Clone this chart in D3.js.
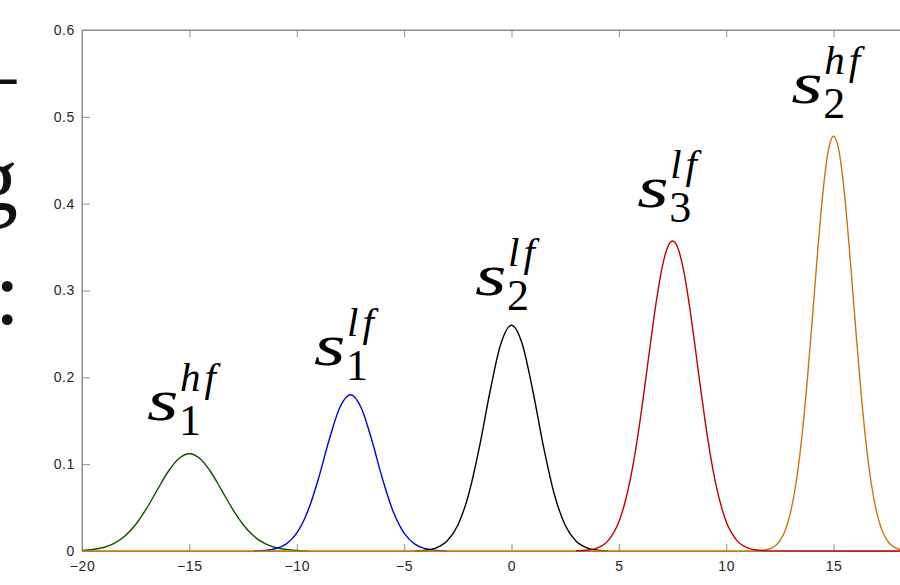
<!DOCTYPE html>
<html>
<head>
<meta charset="utf-8">
<script src="https://cdn.jsdelivr.net/npm/d3@7/dist/d3.min.js"></script>
<style>
  html, body { margin: 0; padding: 0; background: #fff; }
  svg { display: block; }
</style>
</head>
<body>
<svg id="chart" width="900" height="585"></svg>
<script>
// ---- data ----
const xTicks = [-20, -15, -10, -5, 0, 5, 10, 15];
const yTicks = [0, 0.1, 0.2, 0.3, 0.4, 0.5, 0.6];
const yTickLabels = ["0", "0.1", "0.2", "0.3", "0.4", "0.5", "0.6"];

const xGreen = [-20,-19.5,-19,-18.5,-18,-17.5,-17,-16.5,-16,-15.5,-15,-14.5,-14,-13.5,-13,-12.5,-12,-11.5,-11,-10.5,-10,-9.5];
const yGreen = [0.0006,0.0017,0.0040,0.0087,0.0172,0.0305,0.0487,0.0701,0.0910,0.1063,0.1120,0.1063,0.0910,0.0701,0.0487,0.0305,0.0172,0.0087,0.0040,0.0017,0.0006,0.0002];

const xBlue = [-12,-11.5,-11,-10.5,-10,-9.5,-9,-8.5,-8,-7.5,-7,-6.5,-6,-5.5,-5,-4.5,-4,-3.5,-3];
const yBlue = [0.0002,0.0007,0.0026,0.0079,0.0206,0.0449,0.0824,0.1272,0.1650,0.1800,0.1650,0.1272,0.0824,0.0449,0.0206,0.0079,0.0026,0.0007,0.0002];

const xBlack = [-4.5,-4,-3.5,-3,-2.5,-2,-1.5,-1,-0.5,0,0.5,1,1.5,2,2.5,3,3.5,4,4.5];
const yBlack = [0.0002,0.0010,0.0037,0.0114,0.0297,0.0648,0.1190,0.1837,0.2384,0.2600,0.2384,0.1837,0.1190,0.0648,0.0297,0.0114,0.0037,0.0010,0.0002];

const xRed = [3,3.5,4,4.5,5,5.25,5.5,5.75,6,6.25,6.5,6.75,7,7.25,7.5,7.75,8,8.25,8.5,8.75,9,9.25,9.5,10,10.5,11,11.5,12,20];
const yRed = [0.0002,0.0008,0.0035,0.0119,0.0336,0.0527,0.0787,0.1122,0.1525,0.1977,0.2446,0.2886,0.3248,0.3487,0.3570,0.3487,0.3248,0.2886,0.2446,0.1977,0.1525,0.1122,0.0787,0.0336,0.0119,0.0035,0.0008,0.0002,0];

const xOrange = [-20,11,11.5,12,12.5,12.75,13,13.25,13.5,13.75,14,14.25,14.5,14.75,15,15.25,15.5,15.75,16,16.25,16.5,16.75,17,17.25,17.5,18,18.5,19,20];
const yOrange = [0,0,0.0003,0.0023,0.0119,0.0240,0.0450,0.0783,0.1265,0.1899,0.2648,0.3429,0.4124,0.4607,0.4780,0.4607,0.4124,0.3429,0.2648,0.1899,0.1265,0.0783,0.0450,0.0240,0.0119,0.0023,0.0003,0,0];

const seriesColors = ["#124d00", "#0000dd", "#000000", "#c8780a", "#c00000"];

// labels: data position of the "s" glyph (left, baseline)
const labelX = [-16.93, -9.15, -1.65, 5.90, 13.07];
const labelY = [0.151, 0.214, 0.295, 0.396, 0.516];
const labelSub = ["1", "1", "2", "3", "2"];
const labelSup = ["hf", "lf", "lf", "lf", "hf"];

// ---- drawing ----
const svg = d3.select("#chart");
const x = d3.scaleLinear().domain([-20, 20]).range([82, 941]);
const y = d3.scaleLinear().domain([0, 0.6]).range([551, 30]);
const axisColor = "#8c8c8c";
const tickFont = "Liberation Sans";
const mathFont = "Liberation Serif";

// box (left, top)
const g = svg.append("g");
g.append("line").attr("x1", x(-20)).attr("x2", x(-20)).attr("y1", y(0)).attr("y2", y(0.6))
  .attr("stroke", axisColor).attr("stroke-width", 1);
g.append("line").attr("x1", x(-20)).attr("x2", x(20)).attr("y1", y(0.6)).attr("y2", y(0.6))
  .attr("stroke", axisColor).attr("stroke-width", 1);

// axes via d3
const xAxis = d3.axisBottom(x).tickValues(xTicks).tickSizeInner(-7).tickSizeOuter(0).tickPadding(10);
const xAxisTop = d3.axisTop(x).tickValues(xTicks).tickSizeInner(-7).tickSizeOuter(0).tickFormat("");
const yAxis = d3.axisLeft(y).tickValues(yTicks).tickSizeInner(-8).tickSizeOuter(0).tickPadding(7)
  .tickFormat((d, i) => yTickLabels[i]);

function styleAxis(sel) {
  sel.attr("font-family", tickFont).attr("font-size", 14);
  sel.select(".domain").attr("stroke", axisColor);
  sel.selectAll(".tick line").attr("stroke", axisColor);
  sel.selectAll(".tick text").attr("fill", "#262626").attr("letter-spacing", "0.6px");
}
g.append("g").attr("transform", `translate(0,${y(0)})`).call(xAxis).call(styleAxis);
g.append("g").attr("transform", `translate(0,${y(0.6)})`).call(xAxisTop).call(styleAxis);
g.append("g").attr("transform", `translate(${x(-20)},0)`).call(yAxis).call(styleAxis);

// curves
const seriesList = [
  { xs: xGreen, ys: yGreen },
  { xs: xBlue, ys: yBlue },
  { xs: xBlack, ys: yBlack },
  { xs: xOrange, ys: yOrange },
  { xs: xRed, ys: yRed }
];
const line = d3.line().x(d => x(d[0])).y(d => y(d[1])).curve(d3.curveMonotoneX);
seriesList.forEach((s, i) => {
  const pts = s.xs.map((v, j) => [v, s.ys[j]]);
  svg.append("path").datum(pts).attr("d", line)
    .attr("fill", "none").attr("stroke", seriesColors[i]).attr("stroke-width", 1.4);
});

// labels
labelX.forEach((lx, i) => {
  const px = x(lx), py = y(labelY[i]);
  svg.append("text").attr("x", 0).attr("y", 0)
    .attr("transform", `translate(${px - 1},${py}) scale(1.35,1)`)
    .attr("font-family", mathFont).attr("font-style", "italic").attr("font-size", 60)
    .attr("fill", "#000").text("s");
  svg.append("text").attr("x", px + 31).attr("y", py + 15)
    .attr("font-family", mathFont).attr("font-size", 44)
    .attr("fill", "#000").text(labelSub[i]);
  svg.append("text").attr("x", px + 32).attr("y", py - 29)
    .attr("font-family", mathFont).attr("font-style", "italic").attr("font-size", 41)
    .attr("letter-spacing", "4px")
    .attr("fill", "#000").text(labelSup[i]);
});

// fragments of surrounding page text cut at the left edge
svg.append("text").attr("x", -76).attr("y", 103)
  .attr("font-family", mathFont).attr("font-size", 92).attr("fill", "#111").text("\u2014");
svg.append("text").attr("x", -28).attr("y", 210)
  .attr("font-family", mathFont).attr("font-size", 92).attr("fill", "#111").text("g");
svg.append("text").attr("x", -5.5).attr("y", 324)
  .attr("font-family", mathFont).attr("font-size", 92).attr("fill", "#111").text(":");
</script>
</body>
</html>
